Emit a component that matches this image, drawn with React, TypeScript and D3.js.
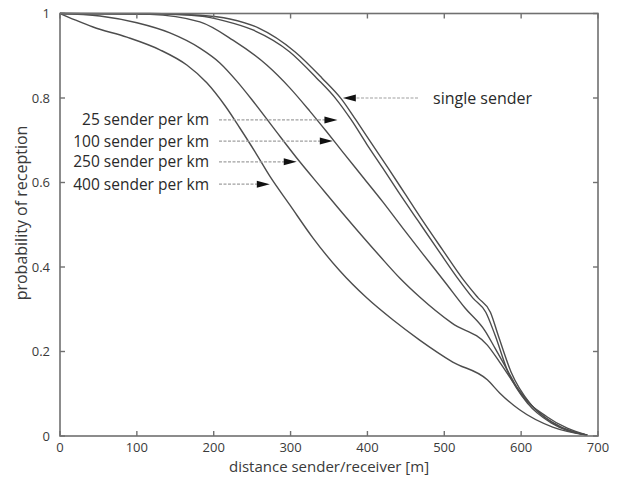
import React, { useEffect, useRef } from "react";
import * as d3 from "d3";

// [distance m, probability]
const singleSender: [number, number][] = [
  [0, 1], [117, 1.0], [182, 0.996], [221, 0.987], [258, 0.966], [306, 0.909],
  [341, 0.847], [366, 0.798], [385, 0.748], [406, 0.691], [427, 0.634], [449, 0.573],
  [472, 0.509], [498, 0.44], [524, 0.372], [544, 0.327], [560, 0.293], [570, 0.239],
  [587, 0.151], [612, 0.076], [642, 0.031], [686, 0.002],
];
const sender25: [number, number][] = [
  [0, 1], [117, 0.999], [182, 0.994], [215, 0.982], [251, 0.961], [299, 0.909],
  [334, 0.847], [359, 0.798], [379, 0.748], [399, 0.691], [420, 0.634], [442, 0.573],
  [466, 0.509], [492, 0.44], [518, 0.372], [537, 0.327], [554, 0.293], [566, 0.239],
  [583, 0.151], [609, 0.076], [639, 0.031], [686, 0.002],
];
const sender100: [number, number][] = [
  [0, 1], [117, 0.998], [182, 0.98], [225, 0.937], [269, 0.878], [299, 0.824],
  [325, 0.769], [347, 0.72], [368, 0.672], [394, 0.613], [420, 0.554], [446, 0.492],
  [472, 0.431], [501, 0.364], [527, 0.303], [553, 0.249], [566, 0.208], [582, 0.156],
  [598, 0.104], [634, 0.045], [686, 0.002],
];
const sender250: [number, number][] = [
  [0, 1], [52, 0.994], [100, 0.978], [143, 0.954], [182, 0.918], [208, 0.883],
  [230, 0.84], [251, 0.793], [280, 0.724], [312, 0.649], [338, 0.592], [373, 0.516],
  [416, 0.426], [442, 0.374], [468, 0.329], [510, 0.267], [556, 0.215], [572, 0.175],
  [595, 0.114], [621, 0.059], [651, 0.021], [686, 0.002],
];
const sender400: [number, number][] = [
  [0, 1], [19.5, 0.985], [43, 0.968], [87, 0.944], [130, 0.914], [165, 0.878],
  [191, 0.836], [215, 0.781], [234, 0.729], [254, 0.672], [273, 0.615], [299, 0.547],
  [329, 0.469], [364, 0.391], [399, 0.327], [433, 0.275], [468, 0.227], [511, 0.175],
  [556, 0.133], [572, 0.102], [598, 0.062], [641, 0.021], [686, 0.002],
];

const xTicks = [0, 100, 200, 300, 400, 500, 600, 700];
const yTicks = [0, 0.2, 0.4, 0.6, 0.8, 1];

// annotations: label, level (probability), arrow tip (distance)
const leftLabels = ["25 sender per km", "100 sender per km", "250 sender per km", "400 sender per km"];
const leftLevels = [0.748, 0.698, 0.649, 0.596];
const leftTips = [361, 355, 308, 273];
const singleLabel = "single sender";
const singleLevel = 0.8;
const singleTip = 368;

const W = 624;
const H = 477;

export default function App() {
  const ref = useRef<SVGSVGElement>(null);

  useEffect(() => {
    const svg = d3.select(ref.current);
    svg.selectAll("*").remove();

    const x = d3.scaleLinear().domain([0, 700]).range([60, 598]);
    const y = d3.scaleLinear().domain([0, 1]).range([436, 13.5]);
    const font = "'Open Sans', sans-serif";
    const txt = "#3a3a3a";
    const axisCol = "#707070";

    svg.append("rect").attr("width", W).attr("height", H).attr("fill", "#fff");

    // curves
    const line = d3
      .line<[number, number]>()
      .x((d) => x(d[0]))
      .y((d) => y(d[1]))
      .curve(d3.curveMonotoneX);
    [singleSender, sender25, sender100, sender250, sender400].forEach((s) => {
      svg
        .append("path")
        .attr("d", line(s))
        .attr("fill", "none")
        .attr("stroke", "#4d4d4d")
        .attr("stroke-width", 1.4);
    });

    // frame
    svg
      .append("rect")
      .attr("x", x(0))
      .attr("y", y(1))
      .attr("width", x(700) - x(0))
      .attr("height", y(0) - y(1))
      .attr("fill", "none")
      .attr("stroke", axisCol)
      .attr("stroke-width", 1.6);

    // ticks (inward, all sides)
    const tl = 5;
    xTicks.forEach((t) => {
      svg.append("line").attr("x1", x(t)).attr("x2", x(t)).attr("y1", y(0)).attr("y2", y(0) - tl)
        .attr("stroke", axisCol).attr("stroke-width", 1.4);
      svg.append("line").attr("x1", x(t)).attr("x2", x(t)).attr("y1", y(1)).attr("y2", y(1) + tl)
        .attr("stroke", axisCol).attr("stroke-width", 1.4);
      svg.append("text").attr("x", x(t)).attr("y", y(0) + 16).attr("text-anchor", "middle")
        .attr("font-family", font).attr("font-size", 13).attr("fill", txt).text(String(t));
    });
    yTicks.forEach((t) => {
      svg.append("line").attr("x1", x(0)).attr("x2", x(0) + tl).attr("y1", y(t)).attr("y2", y(t))
        .attr("stroke", axisCol).attr("stroke-width", 1.4);
      svg.append("line").attr("x1", x(700)).attr("x2", x(700) - tl).attr("y1", y(t)).attr("y2", y(t))
        .attr("stroke", axisCol).attr("stroke-width", 1.4);
      svg.append("text").attr("x", x(0) - 10).attr("y", y(t)).attr("dy", "0.35em").attr("text-anchor", "end")
        .attr("font-family", font).attr("font-size", 13).attr("fill", txt).text(String(t));
    });

    // axis titles
    svg.append("text").attr("x", (x(0) + x(700)) / 2).attr("y", 471.5).attr("text-anchor", "middle")
      .attr("font-family", font).attr("font-size", 15).attr("fill", txt).text("distance sender/receiver [m]");
    svg.append("text").attr("transform", "translate(27,213) rotate(-90)").attr("text-anchor", "middle")
      .attr("font-family", font).attr("font-size", 16).attr("fill", txt).text("probability of reception");

    // arrows
    const arrow = (x1: number, x2: number, yy: number) => {
      const dir = Math.sign(x2 - x1);
      svg.append("line").attr("x1", x1).attr("x2", x2 - dir * 10).attr("y1", yy).attr("y2", yy)
        .attr("stroke", "#a0a0a0").attr("stroke-width", 1.2).attr("stroke-dasharray", "3,1.5");
      svg.append("path")
        .attr("d", `M${x2},${yy} L${x2 - dir * 13},${yy - 3.5} L${x2 - dir * 13},${yy + 3.5} Z`)
        .attr("fill", "#111");
    };

    leftLabels.forEach((lab, i) => {
      const yy = y(leftLevels[i]);
      svg.append("text").attr("x", 209).attr("y", yy).attr("dy", "0.35em").attr("text-anchor", "end")
        .attr("font-family", font).attr("font-size", 15.5).attr("fill", "#2a2a2a").text(lab);
      arrow(219, x(leftTips[i]), yy);
    });
    const sy = y(singleLevel);
    svg.append("text").attr("x", 433).attr("y", sy).attr("dy", "0.35em")
      .attr("font-family", font).attr("font-size", 16).attr("fill", "#2a2a2a").text(singleLabel);
    arrow(418, x(singleTip), sy);
  }, []);

  return (
    <svg
      ref={ref}
      width={W}
      height={H}
      style={{ position: "absolute", left: 0, top: 0 }}
    ></svg>
  );
}
